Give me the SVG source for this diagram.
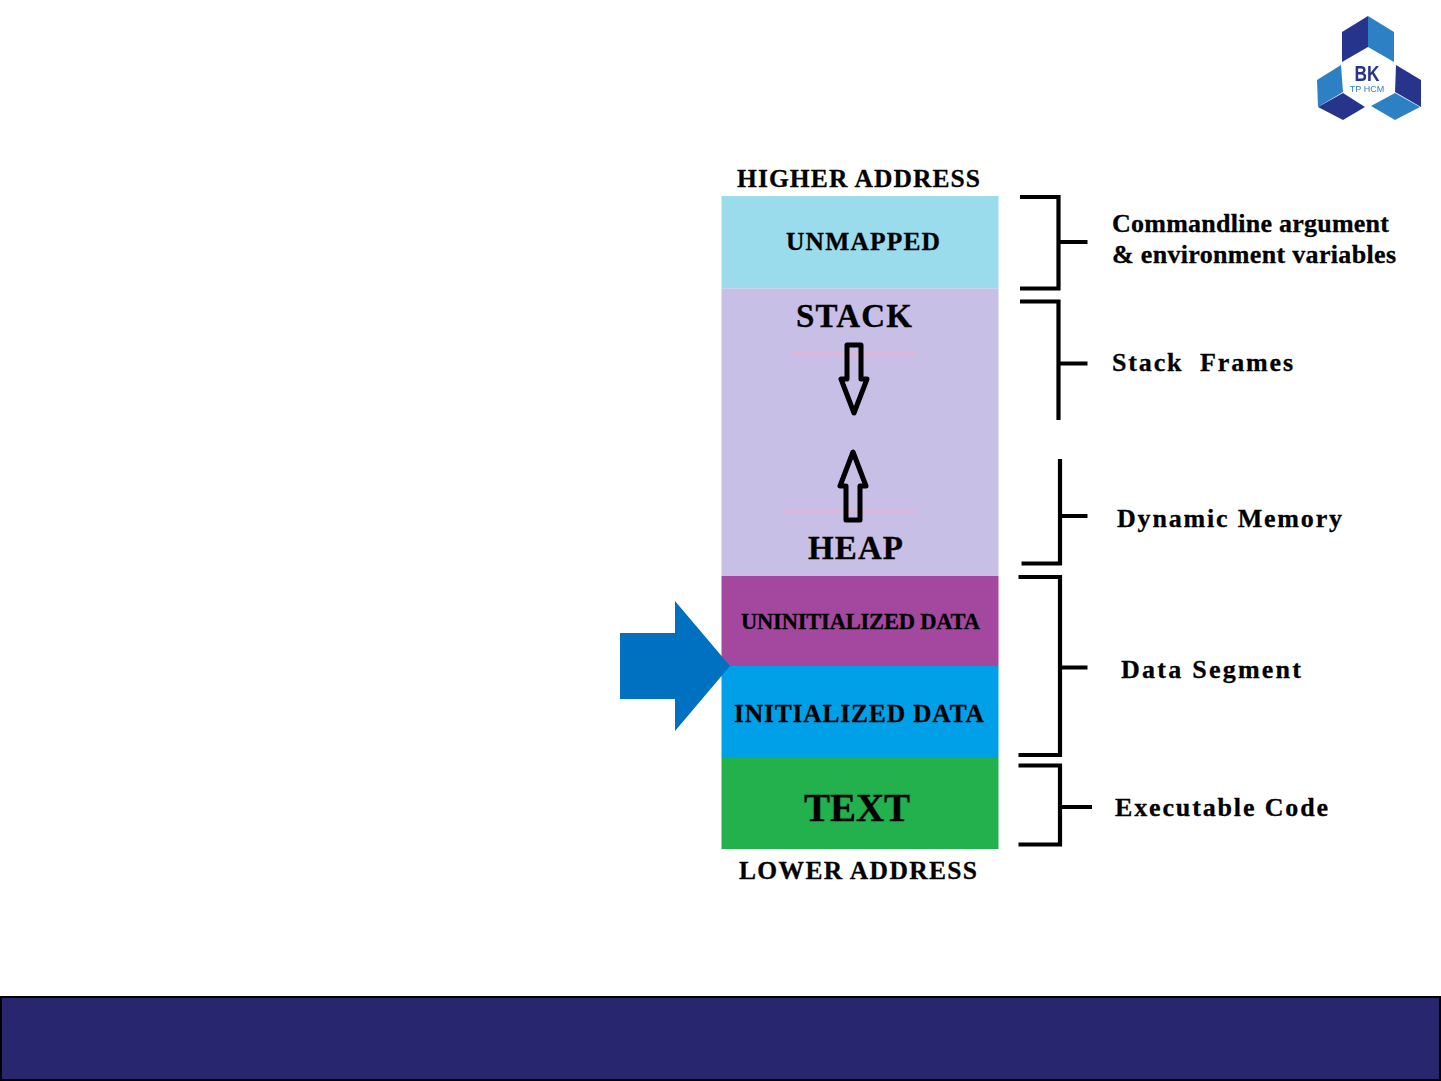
<svg xmlns="http://www.w3.org/2000/svg" width="1441" height="1081" viewBox="0 0 1441 1081">
<defs>
<filter id="soft" x="-5%" y="-5%" width="110%" height="110%"><feGaussianBlur stdDeviation="0.7"/></filter>
</defs>
<style>
text{font-family:"Liberation Serif","Times New Roman",serif;font-weight:bold;fill:#000;stroke:#000;stroke-width:0.3;white-space:pre}
.l{font-size:25.5px}
.r{font-size:26px}
.b{fill:none;stroke:#000;stroke-width:4.2}
.ar{fill:none;stroke:#000;stroke-width:5;stroke-linejoin:round}
.p{stroke:#eeb0cc;stroke-width:2}
.lt{font-family:"Liberation Sans",sans-serif;stroke:none;text-anchor:middle}
</style>
<rect width="1441" height="1081" fill="#fff"/>
<g id="logo" filter="url(#soft)">
<polygon points="1368,16 1368,47 1342,62 1342,32" fill="#27348b"/>
<polygon points="1368,16 1394,32 1394,62 1368,47" fill="#2f80c4"/>
<polygon points="1341,65 1343,92 1318,107 1317,80" fill="#2f80c4"/>
<polygon points="1318,107 1343,93 1365,107 1343,120" fill="#27348b"/>
<polygon points="1396,65 1421,80 1421,107 1395,92" fill="#27348b"/>
<polygon points="1371,106 1395,93 1420,107 1395,120" fill="#2f80c4"/>
<text x="1367" y="81" font-size="22" class="lt" style="fill:#27348b" textLength="25" lengthAdjust="spacingAndGlyphs">BK</text>
<text x="1367" y="92" font-size="9" class="lt" style="fill:#2f80c4;font-weight:normal">TP HCM</text>
</g>
<text id="higher" x="737" y="187" class="l" textLength="243">HIGHER ADDRESS</text>
<g id="unmapped"><rect x="721.500" y="196" width="277" height="92.500" fill="#9adbec"/><text x="786" y="250" class="l" textLength="154">UNMAPPED</text></g>
<g id="stack-heap"><rect x="721.500" y="288.500" width="277" height="287.500" fill="#c7bfe6"/>
<line class="p" x1="791" y1="353.500" x2="915" y2="353.500"/>
<line class="p" x1="781" y1="511.500" x2="916" y2="511.500"/>
<text x="796" y="327" font-size="33" textLength="116">STACK</text>
<text x="808" y="558.500" font-size="33" textLength="95">HEAP</text>
<path class="ar" d="M847,345H861V379H867L854,413L841,379H847Z"/>
<path class="ar" d="M846,520H860V486H866L853,452L840,486H846Z"/></g>
<g id="uninit"><rect x="721.500" y="576" width="277" height="90" fill="#a4489f"/><text x="741" y="629" font-size="22.500" textLength="239">UNINITIALIZED DATA</text></g>
<g id="init"><rect x="721.500" y="666" width="277" height="92" fill="#00a0e8"/><text x="734" y="722" font-size="25.500" textLength="250">INITIALIZED DATA</text></g>
<g id="text-seg"><rect x="721.500" y="758" width="277" height="91" fill="#22b14c"/><text x="804" y="821" font-size="39" textLength="106">TEXT</text></g>
<text id="lower" x="739" y="879" class="l" textLength="238">LOWER ADDRESS</text>
<polygon id="pointer" points="620,633 675,633 675,601 730,666 675,731 675,699 620,699" fill="#0070c0"/>
<g id="connectors">
<path class="b" d="M1020,197H1058.500V288.500H1020M1058.500,242H1087.500"/>
<path class="b" d="M1020,301.500H1058.500V420M1058.500,363.500H1087.500"/>
<path class="b" d="M1060,459V563.500H1021.500M1060,516H1087.500"/>
<path class="b" d="M1018.500,577H1060V755H1018.500M1060,667.500H1087.500"/>
<path class="b" d="M1018.500,765.500H1060V844.500H1018.500M1060,807H1092"/>
</g>
<g id="labels">
<text x="1112" y="232" class="r" textLength="277">Commandline argument</text>
<text x="1112" y="263" class="r" textLength="284">&amp; environment variables</text>
<text x="1112" y="371" class="r" textLength="181">Stack  Frames</text>
<text x="1117" y="527" class="r" textLength="225">Dynamic Memory</text>
<text x="1121" y="678" class="r" textLength="180">Data Segment</text>
<text x="1115" y="816" class="r" textLength="213">Executable Code</text>
</g>
<g id="footer"><rect x="1" y="997" width="1439" height="83" fill="#27266f" stroke="#000" stroke-width="2"/></g>
</svg>
